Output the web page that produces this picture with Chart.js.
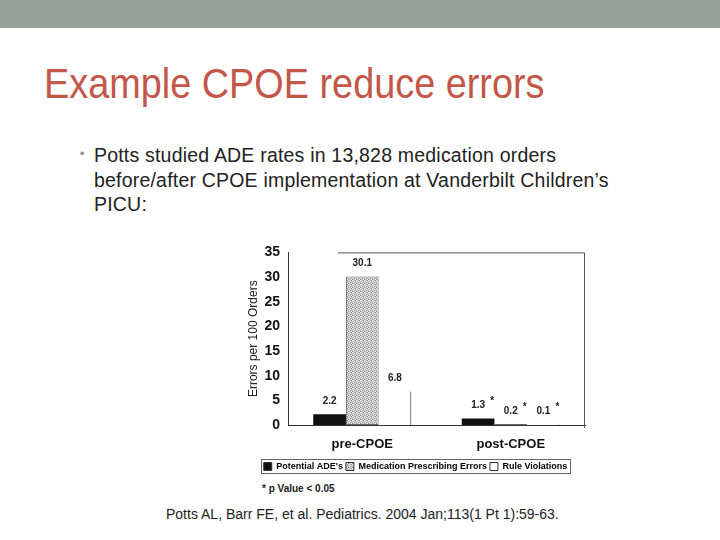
<!DOCTYPE html>
<html>
<head>
<meta charset="utf-8">
<script src="https://cdn.jsdelivr.net/npm/chart.js@4.4.0/dist/chart.umd.min.js"></script>
<style>
  body { margin: 0; width: 720px; height: 540px; background: #fff; position: relative; overflow: hidden; font-family: "Liberation Sans", Arial, sans-serif; }
  .band { position: absolute; left: 0; top: 0; width: 720px; height: 28px; background: #95a299; }
  .title { position: absolute; left: 44px; top: 62px; font-size: 43px; line-height: 1; color: #c2574a; transform: scaleX(0.88); transform-origin: left top; white-space: nowrap; }
  .bullet { position: absolute; left: 94px; top: 143px; width: 560px; font-size: 19.5px; line-height: 24.5px; letter-spacing: 0.2px; color: #222; }
  .dot { position: absolute; left: 80px; top: 147px; font-size: 12px; color: #888; }
  .note { position: absolute; left: 262px; top: 483px; font-size: 10px; font-weight: bold; color: #222; }
  .cite { position: absolute; left: 166px; top: 506px; font-size: 14px; color: #222; }
  #wrap { position: absolute; left: 236px; top: 236px; width: 354px; height: 245px; }
</style>
</head>
<body>
<div class="band"></div>
<div class="title">Example CPOE reduce errors</div>
<div class="dot">•</div>
<div class="bullet">Potts studied ADE rates in 13,828 medication orders before/after CPOE implementation at Vanderbilt Children’s PICU:</div>
<div id="wrap"><canvas id="chart" width="354" height="245"></canvas></div>
<div class="note">* p Value &lt; 0.05</div>
<div class="cite">Potts AL, Barr FE, et al. Pediatrics. 2004 Jan;113(1 Pt 1):59-63.</div>
<script>
const categories = ["pre-CPOE", "post-CPOE"];
const potentialADE = [2.2, 1.3];
const prescribingErrors = [30.1, 0.2];
const ruleViolations = [6.8, 0.1];
const significant = [false, true];
const yTicks = [0, 5, 10, 15, 20, 25, 30, 35];

// speckled fill for the middle bars
const pc = document.createElement("canvas");
pc.width = 4; pc.height = 4;
const px = pc.getContext("2d");
px.fillStyle = "#c4c4c4";
px.fillRect(0, 0, 4, 4);
px.fillStyle = "#f2f2f2";
px.fillRect(0, 0, 1, 1); px.fillRect(2, 1, 1, 1); px.fillRect(1, 2, 1, 1); px.fillRect(3, 3, 1, 1);
px.fillStyle = "#8a8a8a";
px.fillRect(3, 0, 1, 1); px.fillRect(0, 3, 1, 1); px.fillRect(2, 2, 1, 1);
const speckle = document.getElementById("chart").getContext("2d").createPattern(pc, "repeat");

const frame = {
  id: "frame",
  afterDraw(chart) {
    const { ctx, chartArea: a } = chart;
    ctx.save();
    ctx.strokeStyle = "#555";
    ctx.lineWidth = 1;
    ctx.beginPath();
    ctx.moveTo(a.left + 50, a.top + 0.5);
    ctx.lineTo(a.right - 0.5, a.top + 0.5);
    ctx.lineTo(a.right - 0.5, a.bottom + 3);
    ctx.stroke();
    // value labels
    ctx.fillStyle = "#222";
    ctx.font = "bold 10px 'Liberation Sans', Arial";
    ctx.textAlign = "center";
    ctx.textBaseline = "bottom";
    chart.data.datasets.forEach((ds, i) => {
      chart.getDatasetMeta(i).data.forEach((bar, j) => {
        const v = ds.data[j];
        ctx.fillText(v.toFixed(1), bar.x, bar.y - 8);
        if (significant[j]) ctx.fillText("*", bar.x + 14, bar.y - 12);
      });
    });
    // legend box
    const hb = chart.legend.legendHitBoxes;
    if (hb && hb.length) {
      const first = hb[0], last = hb[hb.length - 1];
      const x0 = Math.round(first.left) - 2.5;
      const x1 = Math.round(last.left + last.width) + 3.5;
      const y0 = Math.round(first.top) - 2.5;
      ctx.strokeStyle = "#666";
      ctx.strokeRect(x0, y0, x1 - x0, 14);
    }
    ctx.restore();
  }
};

new Chart(document.getElementById("chart"), {
  type: "bar",
  data: {
    labels: categories,
    datasets: [
      { label: "Potential ADE's", data: potentialADE, backgroundColor: "#111", borderWidth: 0 },
      { label: "Medication Prescribing Errors", data: prescribingErrors, backgroundColor: speckle, borderColor: "#666", borderWidth: 1 },
      { label: "Rule Violations", data: ruleViolations, backgroundColor: "#fff", borderColor: "#333", borderWidth: { top: 0, left: 0, bottom: 0, right: 1 } }
    ]
  },
  options: {
    responsive: false,
    animation: false,
    layout: { padding: { top: 11, right: 5, left: 10, bottom: 0 } },
    datasets: { bar: { categoryPercentage: 0.66, barPercentage: 1, borderSkipped: false } },
    plugins: {
      tooltip: { enabled: false },
      legend: {
        position: "bottom",
        labels: {
          boxWidth: 8, boxHeight: 8, padding: 3, color: "#222",
          font: { size: 9, weight: "bold", family: "'Liberation Sans', Arial" },
          generateLabels(chart) {
            return chart.data.datasets.map((ds, i) => ({
              text: ds.label, fillStyle: ds.backgroundColor,
              strokeStyle: "#333", lineWidth: 1, datasetIndex: i
            }));
          }
        }
      }
    },
    scales: {
      x: {
        grid: { display: false },
        border: { color: "#333" },
        ticks: { color: "#111", font: { size: 13, weight: "bold", family: "'Liberation Sans', Arial" }, padding: 4 },
        afterFit(s) { s.height = 34; }
      },
      y: {
        min: 0, max: 35,
        afterBuildTicks(s) { s.ticks = yTicks.map(v => ({ value: v })); },
        grid: { display: false, drawTicks: false },
        border: { color: "#333" },
        ticks: { color: "#111", font: { size: 14, weight: "bold", family: "'Liberation Sans', Arial" }, padding: 8 },
        title: { display: true, text: "Errors per 100 Orders", color: "#222", font: { size: 12, family: "'Liberation Sans', Arial" }, padding: 0 },
        afterFit(s) { s.width = 42; }
      }
    }
  },
  plugins: [frame]
});
</script>
</body>
</html>
